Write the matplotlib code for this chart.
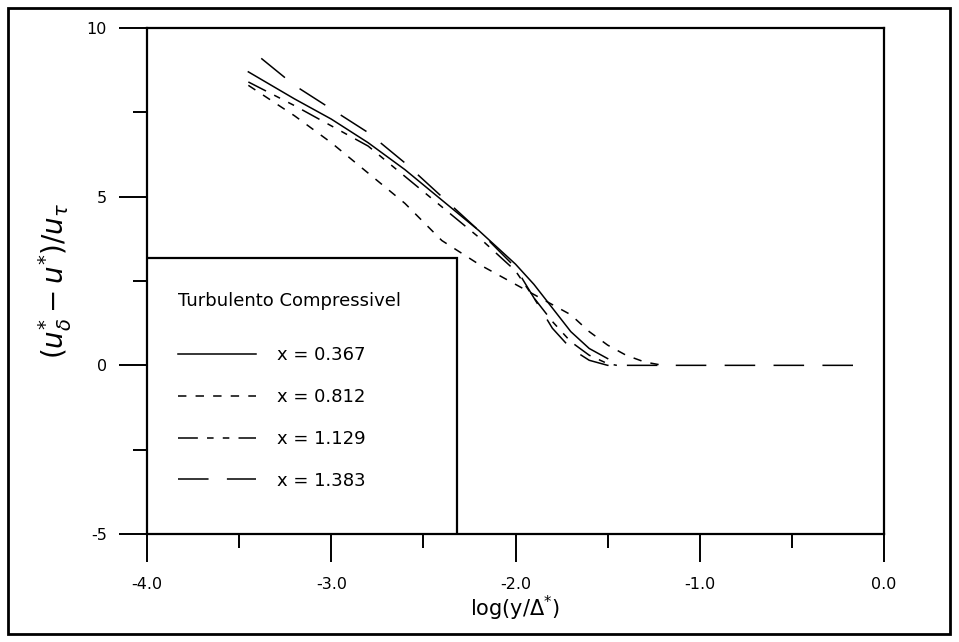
# coding=utf-8
import matplotlib.pyplot as plt
from matplotlib.patches import Rectangle

plt.rcParams['font.family'] = ['DejaVu Sans']
plt.rcParams['mathtext.fontset'] = 'dejavusans'

# x = 0.367
x1 = [-3.45, -3.2, -3.0, -2.8, -2.6, -2.4, -2.2, -2.0, -1.9, -1.8, -1.7, -1.6, -1.5]
y1 = [8.7, 7.9, 7.3, 6.6, 5.8, 4.9, 4.0, 3.0, 2.4, 1.7, 1.0, 0.5, 0.2]
# x = 0.812
x2 = [-3.45, -3.2, -3.0, -2.8, -2.6, -2.4, -2.2, -2.0, -1.9, -1.8, -1.7, -1.6, -1.5, -1.4, -1.3, -1.2]
y2 = [8.3, 7.4, 6.6, 5.7, 4.8, 3.7, 3.0, 2.4, 2.1, 1.8, 1.5, 1.0, 0.6, 0.3, 0.1, 0.0]
# x = 1.129
x3 = [-3.45, -3.2, -3.0, -2.8, -2.6, -2.4, -2.2, -2.0, -1.9, -1.8, -1.7, -1.6, -1.5, -1.45]
y3 = [8.4, 7.7, 7.1, 6.5, 5.6, 4.7, 3.8, 2.8, 2.0, 1.3, 0.7, 0.3, 0.05, 0.0]
# x = 1.383
x4 = [-3.38, -3.2, -3.0, -2.8, -2.6, -2.4, -2.2, -2.0, -1.9, -1.8, -1.7, -1.6, -1.5, -1.0, -0.5, -0.08]
y4 = [9.1, 8.3, 7.6, 6.9, 6.0, 5.0, 4.0, 2.9, 2.0, 1.1, 0.5, 0.15, 0.0, 0.0, 0.0, 0.0]

labels = ['x = 0.367', 'x = 0.812', 'x = 1.129', 'x = 1.383']

fig = plt.figure(figsize=(9.59, 6.42), dpi=100)
ax = fig.add_axes([0.1533, 0.1682, 0.7685, 0.7882])

ax.plot(x1, y1, color='black', lw=1.1, label=labels[0])
ax.plot(x2, y2, color='black', lw=1.1, dashes=[5.5, 6], label=labels[1])
ax.plot(x3, y3, color='black', lw=1.1, dashes=[13, 6, 4.3, 6, 4.3, 6], label=labels[2])
ax.plot(x4, y4, color='black', lw=1.1, dashes=[20, 12], label=labels[3])

ax.set_xlim(-4.0, 0.0)
ax.set_ylim(-5, 10)
ax.set_xticks([-4.0, -3.0, -2.0, -1.0, 0.0])
ax.set_xticklabels(['-4.0', '-3.0', '-2.0', '-1.0', '0.0'])
ax.set_xticks([-3.5, -2.5, -1.5, -0.5], minor=True)
ax.set_yticks([-5, 0, 5, 10])
ax.set_yticklabels(['-5', '0', '5', '10'])
ax.set_yticks([-2.5, 2.5, 7.5], minor=True)
ax.tick_params(which='major', direction='out', length=20, width=1.4, labelsize=11.5)
ax.tick_params(axis='x', which='major', pad=11)
ax.tick_params(axis='y', which='major', pad=9)
ax.tick_params(which='minor', direction='out', length=10, width=1.4)
for s in ax.spines.values():
    s.set_linewidth(1.6)

ax.set_xlabel(r'log(y/$\Delta^{*}$)', fontsize=15, labelpad=1)
ax.set_ylabel(r'$(u^{*}_{\delta} - u^{*})/u_{\tau}$', fontsize=20, labelpad=9)

# caixa da legenda
ax.add_patch(Rectangle((0, 0), 0.4206, 0.5455, transform=ax.transAxes,
                       facecolor='white', edgecolor='black', lw=1.6, zorder=3))
leg = ax.legend(loc='upper left', bbox_to_anchor=(0.02, 0.51), frameon=False,
                title='Turbulento Compressivel', alignment='left',
                fontsize=13, title_fontsize=13, handlelength=4.3,
                handletextpad=1.2, labelspacing=1.32)
leg._legend_box.sep = 26
leg.set_zorder(4)

# moldura da figura
fig.patches.append(Rectangle((0.008, 0.012), 0.983, 0.976, transform=fig.transFigure,
                             fill=False, edgecolor='black', lw=2.0))

plt.savefig('out.png', dpi=100)
